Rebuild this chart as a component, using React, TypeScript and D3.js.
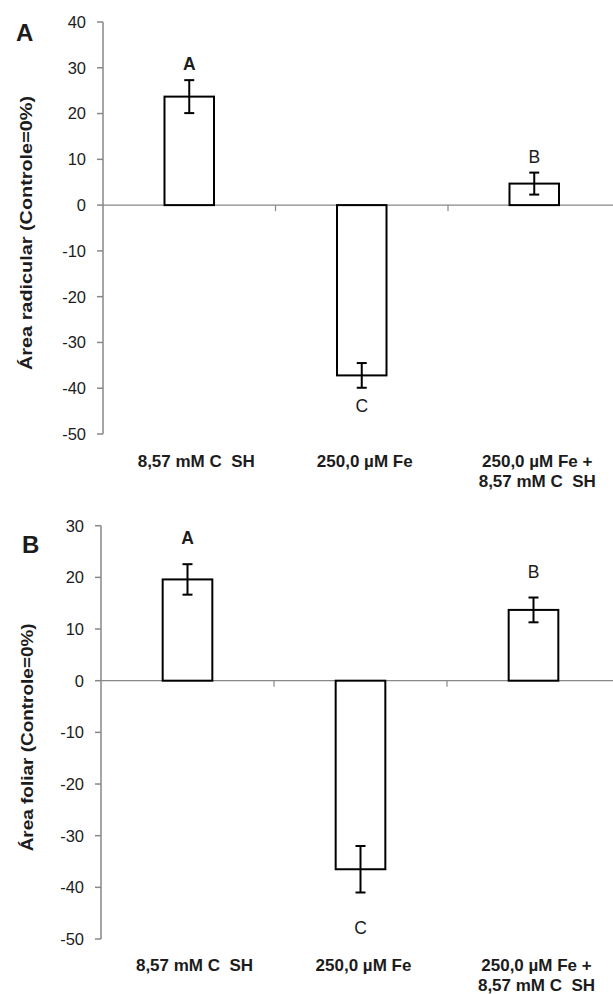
import React from 'react';
import * as d3 from 'd3';

// categories (x axis), one label line per entry
const categoryLines = [
  ['8,57 mM C  SH'],
  ['250,0 µM Fe'],
  ['250,0 µM Fe +', '8,57 mM C  SH'],
];
const categories = categoryLines.map((l) => l.join(' '));

// panel A - root area, % of control
const rootArea = [23.7, -37.2, 4.7];
const rootErr = [3.6, 2.7, 2.4];
const rootLetters = ['A', 'C', 'B'];
const rootTicks = [40, 30, 20, 10, 0, -10, -20, -30, -40, -50];

// panel B - leaf area, % of control
const leafArea = [19.6, -36.5, 13.7];
const leafErr = [2.95, 4.5, 2.4];
const leafLetters = ['A', 'C', 'B'];
const leafTicks = [30, 20, 10, 0, -10, -20, -30, -40, -50];

const FONT = 'Liberation Sans, Arial, sans-serif';
const AXIS = '#878787';
const INK = '#1c1c1c';

type PanelProps = {
  tag: string;
  tagX: number;
  tagY: number;
  title: string;
  titleX: number;
  titleLen: number;
  values: number[];
  errs: number[];
  letters: string[];
  ticks: number[];
  left: number;
  right: number;
  top: number;
  bottom: number;
  above: number;
  below: number;
  labelY: number;
};

const Panel = (p: PanelProps) => {
  const y = d3
    .scaleLinear()
    .domain([d3.min(p.ticks)!, d3.max(p.ticks)!])
    .range([p.bottom, p.top]);
  const grid = d3.scaleBand<string>().domain(categories).range([p.left, p.right]);
  const bar = d3
    .scaleBand<string>()
    .domain(categories)
    .range([p.left, p.right])
    .paddingInner(0.713)
    .paddingOuter(0.3565);
  const y0 = y(0);
  const midY = (p.top + p.bottom) / 2;

  return (
    <g fontFamily={FONT}>
      <text x={p.tagX} y={p.tagY} fontSize={24} fontWeight="bold" fill={INK}>
        {p.tag}
      </text>
      <text
        transform={`translate(${p.titleX},${midY + 5}) rotate(-90)`}
        textAnchor="middle"
        dominantBaseline="central"
        fontSize={16}
        fontWeight="bold"
        fill={INK}
        textLength={p.titleLen}
        lengthAdjust="spacingAndGlyphs"
      >
        {p.title}
      </text>

      {/* y axis */}
      <line x1={p.left} x2={p.left} y1={p.top} y2={p.bottom} stroke={AXIS} strokeWidth={1.5} />
      {p.ticks.map((t) => (
        <g key={t}>
          <line x1={p.left - 6} x2={p.left} y1={y(t)} y2={y(t)} stroke={AXIS} strokeWidth={1.5} />
          <text
            x={p.left - 17}
            y={y(t)}
            dy="0.36em"
            textAnchor="end"
            fontSize={16.5}
            fill={INK}
          >
            {t}
          </text>
        </g>
      ))}

      {/* category axis on zero */}
      <line x1={p.left} x2={613} y1={y0} y2={y0} stroke={AXIS} strokeWidth={1.2} />
      {categories.slice(1).map((c) => (
        <line
          key={c}
          x1={grid(c)!}
          x2={grid(c)!}
          y1={y0}
          y2={y0 + 6}
          stroke={AXIS}
          strokeWidth={1.2}
        />
      ))}

      {/* bars */}
      {categories.map((c, i) => {
        const v = p.values[i];
        const e = p.errs[i];
        const cx = bar(c)! + bar.bandwidth() / 2;
        const hi = y(v + e);
        const lo = y(v - e);
        const letterY = v >= 0 ? hi - p.above : lo + p.below;
        return (
          <g key={c}>
            <rect
              x={bar(c)!}
              y={Math.min(y(v), y0)}
              width={bar.bandwidth()}
              height={Math.abs(y(v) - y0)}
              fill="#fff"
              stroke="#000"
              strokeWidth={2}
            />
            <line x1={cx} x2={cx} y1={hi} y2={lo} stroke="#000" strokeWidth={2} />
            <line x1={cx - 5} x2={cx + 5} y1={hi} y2={hi} stroke="#000" strokeWidth={2} />
            <line x1={cx - 5} x2={cx + 5} y1={lo} y2={lo} stroke="#000" strokeWidth={2} />
            <text
              x={cx}
              y={letterY}
              dy="0.36em"
              textAnchor="middle"
              fontSize={17.5}
              fontWeight={p.letters[i] === 'A' ? 'bold' : 'normal'}
              fill={INK}
            >
              {p.letters[i]}
            </text>
            {categoryLines[i].map((line, j) => (
              <text
                key={j}
                x={grid(c)! + grid.bandwidth() / 2 + (i === 0 ? 7 : 3)}
                y={p.labelY + j * 20}
                textAnchor="middle"
                fontSize={17}
                fontWeight="bold"
                fill={INK}
                style={{ whiteSpace: 'pre' }}
              >
                {line}
              </text>
            ))}
          </g>
        );
      })}
    </g>
  );
};

export default function App() {
  return (
    <svg
      width={613}
      height={994}
      style={{ position: 'absolute', left: 0, top: 0, background: '#fff' }}
    >
      <rect width={613} height={994} fill="#fff" />
      <Panel
        tag="A"
        tagX={16}
        tagY={41}
        title="Área radicular (Controle=0%)"
        titleX={26}
        titleLen={274}
        values={rootArea}
        errs={rootErr}
        letters={rootLetters}
        ticks={rootTicks}
        left={103}
        right={620.5}
        top={22}
        bottom={434}
        above={16}
        below={18}
        labelY={467}
      />
      <Panel
        tag="B"
        tagX={22}
        tagY={553}
        title="Área foliar (Controle=0%)"
        titleX={27}
        titleLen={228}
        values={leafArea}
        errs={leafErr}
        letters={leafLetters}
        ticks={leafTicks}
        left={101}
        right={620}
        top={525.7}
        bottom={939}
        above={26}
        below={35}
        labelY={971}
      />
    </svg>
  );
}
